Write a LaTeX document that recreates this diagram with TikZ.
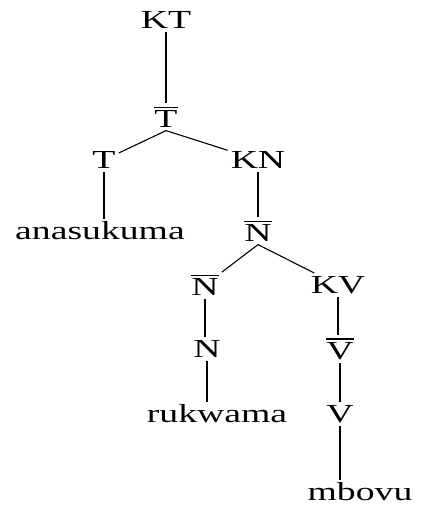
\documentclass[tikz,border=0pt]{standalone}
\usepackage{fontspec}
\usetikzlibrary{trees}
\setmainfont{Liberation Serif}[FakeStretch=1.45]
\newcommand\ov[1]{\leavevmode\vbox{\hrule height 1.3pt\kern 2.5pt\hbox{#1}}}
\tikzset{
	stem/.style={edge from parent path={(\tikzparentnode) -- (\tikzparentnode |- \tikzchildnode.north)}},
	fork/.style={edge from parent path={(\tikzparentnode.south) -- (\tikzchildnode)}}
}
\begin{document}
\begin{tikzpicture}[font=\fontsize{26}{30}\selectfont,inner sep=3pt,edge from parent/.style={draw,line width=1.1pt},
	level 1/.style={stem,grow via three points={one child at (0,-97pt) and two children at (0,-97pt) and (0,-97pt)}},
	level 2/.style={fork,grow via three points={one child at (0,-43pt) and two children at (-62pt,-43pt) and (92pt,-43pt)}},
	level 3/.style={stem,grow via three points={one child at (0,-71pt) and two children at (0,-71pt) and (0,-71pt)}},
	level 4/.style={fork,grow via three points={one child at (0,-54pt) and two children at (-53pt,-54pt) and (80pt,-54pt)}},
	level 5/.style={stem,grow via three points={one child at (2pt,-64pt) and two children at (2pt,-64pt) and (2pt,-64pt)}},
	level 6/.style={grow via three points={one child at (0,-65pt) and two children at (0,-65pt) and (0,-65pt)}},
	level 7/.style={grow via three points={one child at (0,-78pt) and two children at (0,-78pt) and (0,-78pt)}}]
	\useasboundingbox (0,0) rectangle (421pt,506pt);
	\node (kt) at (166pt,486pt) {KT}
		child {node (tbar) {\ov{T}}
			child {node (t) {T}
				child {node[xshift=-4pt] (anasukuma) {anasukuma}}
			}
			child {node (kn) {KN}
				child {node (nbar) {\ov{N}}
					child {node (nbar2) {\ov{N}}
						child {node (n) {N}
							child {node[xshift=10pt] (rukwama) {rukwama}}
						}
					}
					child {node (kv) {KV}
						child {node (vbar) {\ov{V}}
							child {node (v) {V}
								child {node[xshift=20pt] (mbovu) {mbovu}}
							}
						}
					}
				}
			}
		}
	;
\end{tikzpicture}
\end{document}
